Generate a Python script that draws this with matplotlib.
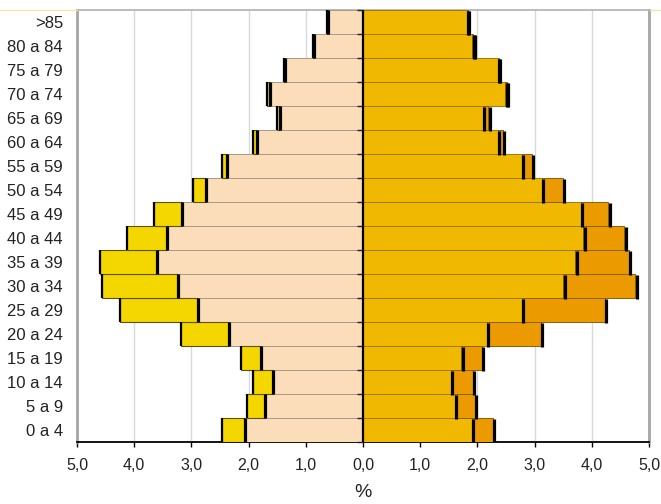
import matplotlib
matplotlib.use("Agg")
import matplotlib.pyplot as plt
import matplotlib.transforms as mtransforms
from matplotlib.lines import Line2D
import numpy as np

plt.rcParams['font.family'] = ['Liberation Sans', 'DejaVu Sans']

# Age groups, bottom to top
ages = ["0 a 4", "5 a 9", "10 a 14", "15 a 19", "20 a 24", "25 a 29", "30 a 34",
        "35 a 39", "40 a 44", "45 a 49", "50 a 54", "55 a 59", "60 a 64",
        "65 a 69", "70 a 74", "75 a 79", "80 a 84", ">85"]

# Left side (%): inner series and outer series
left_inner = [2.07, 1.72, 1.58, 1.78, 2.35, 2.88, 3.23, 3.61, 3.43, 3.16, 2.74,
              2.37, 1.86, 1.45, 1.62, 1.36, 0.86, 0.61]
left_outer = [0.39, 0.31, 0.35, 0.36, 0.84, 1.36, 1.33, 0.99, 0.70, 0.49, 0.24,
              0.10, 0.07, 0.06, 0.06, 0.02, 0.02, 0.02]

# Right side (%): inner series and outer series
right_inner = [1.90, 1.61, 1.54, 1.72, 2.17, 2.78, 3.50, 3.71, 3.85, 3.81, 3.13,
               2.78, 2.36, 2.09, 2.49, 2.36, 1.91, 1.81]
right_outer = [0.37, 0.34, 0.38, 0.36, 0.94, 1.45, 1.26, 0.94, 0.72, 0.48, 0.36,
               0.17, 0.09, 0.10, 0.03, 0.02, 0.02, 0.02]

xticks = [-5, -4, -3, -2, -1, 0, 1, 2, 3, 4, 5]
xticklabels = ["5,0", "4,0", "3,0", "2,0", "1,0", "0,0", "1,0", "2,0", "3,0", "4,0", "5,0"]

c_peach = "#FCDDB9"
c_yellow = "#F5D700"
c_gold = "#F0B900"
c_orange = "#EB9B00"

fig = plt.figure(figsize=(6.61, 5.04), dpi=100)
ax = fig.add_axes([77 / 661, 1 - 442 / 504, 572 / 661, 432 / 504])

y = np.arange(len(ages))
li = np.array(left_inner)
lo = np.array(left_outer)
ri = np.array(right_inner)
ro = np.array(right_outer)

ax.barh(y, -li, height=1.0, color=c_peach, edgecolor="#A89A88", linewidth=0.7, zorder=3)
ax.barh(y, -lo, left=-li, height=1.0, color=c_yellow, edgecolor="#5a5010", linewidth=0.8, zorder=3)
ax.barh(y, ri, height=1.0, color=c_gold, edgecolor="#9C7A1A", linewidth=0.7, zorder=3)
ax.barh(y, ro, left=ri, height=1.0, color=c_orange, edgecolor="#8A6010", linewidth=0.7, zorder=3)

# dark "shadow" edges at segment ends
shift_r = mtransforms.offset_copy(ax.transData, fig=fig, x=1.3, y=-0.8, units='dots')
ax.vlines(-li, y - 0.5, y + 0.5, colors="black", linewidth=2.3, zorder=4)
ax.vlines(-(li + lo), y - 0.5, y + 0.5, colors="black", linewidth=1.6, zorder=4)
ax.vlines(ri, y - 0.5, y + 0.5, colors="black", linewidth=2.3, zorder=4, transform=shift_r)
ax.vlines(ri + ro, y - 0.5, y + 0.5, colors="black", linewidth=2.3, zorder=4, transform=shift_r)

# central axis line with ticks
ax.axvline(0, color="black", linewidth=1.6, zorder=5)
bounds = np.arange(len(ages) + 1) - 0.5
ax.plot(np.zeros(len(bounds)), bounds, ls="none", marker=0, ms=4, mew=1.0,
        color="#222222", zorder=5, clip_on=False)

ax.set_xlim(-5, 5)
ax.set_ylim(-0.5, len(ages) - 0.5)
ax.set_xticks(xticks)
ax.set_xticklabels(xticklabels, fontsize=11.5, color="#222222")
ax.set_yticks(y)
ax.set_yticklabels(ages, fontsize=12, color="#222222")
ax.tick_params(axis="y", length=0, pad=10)
ax.tick_params(axis="x", length=3.5, width=1, color="black", pad=8, direction="out")

ax.grid(axis="x", color="#D9D9D9", linewidth=1.0, zorder=0)
ax.set_axisbelow(True)

for s in ["left", "right"]:
    ax.spines[s].set_color("#A6A6A6")
    ax.spines[s].set_linewidth(2.0)
ax.spines["top"].set_color("#B0B0B0")
ax.spines["top"].set_linewidth(1.2)
ax.spines["bottom"].set_color("black")
ax.spines["bottom"].set_linewidth(1.3)

ax.set_xlabel("%", fontsize=14, labelpad=8, color="#222222")

# thin chart-area border line at top
fig.add_artist(Line2D([0, 77 / 661], [1 - 10 / 504] * 2, color="#EFE6A8", lw=1.0,
                      transform=fig.transFigure))
fig.add_artist(Line2D([650 / 661, 1], [1 - 10 / 504] * 2, color="#EFE6A8", lw=1.0,
                      transform=fig.transFigure))

fig.savefig("out.png", dpi=100)
